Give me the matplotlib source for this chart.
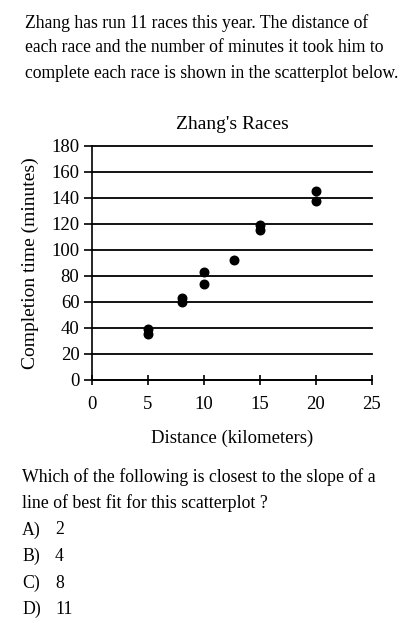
import matplotlib
matplotlib.use('Agg')
import matplotlib.pyplot as plt

# race data
distance_km = [5, 5, 8, 8, 10, 10, 12.7, 15, 15, 20, 20]
minutes = [39, 35.5, 63, 60, 83, 74, 92, 119, 115, 145, 138]

x_ticks = [0, 5, 10, 15, 20, 25]
y_ticks = [0, 20, 40, 60, 80, 100, 120, 140, 160, 180]

question_lines = [
    "Zhang has run 11 races this year. The distance of",
    "each race and the number of minutes it took him to",
    "complete each race is shown in the scatterplot below.",
]
prompt_lines = [
    "Which of the following is closest to the slope of a",
    "line of best fit for this scatterplot ?",
]
choice_letters = ["A)", "B)", "C)", "D)"]
choice_values = ["2", "4", "8", "11"]

plt.rcParams['font.family'] = ['Liberation Serif', 'DejaVu Serif']

fig = plt.figure(figsize=(4.1, 6.37), dpi=100)
W, H = 410, 637

def fy(py):
    return 1 - py / H

for i, line in enumerate(question_lines):
    fig.text(25 / W, fy(23 + 25 * i), line, fontsize=12.7, va='center', ha='left')

ax = fig.add_axes([92 / W, fy(380), (372 - 92) / W, (380 - 146) / H])
ax.scatter(distance_km, minutes, s=38, color='black', zorder=3, clip_on=False)

ax.set_xlim(0, 25)
ax.set_ylim(0, 180)
ax.set_xticks(x_ticks)
ax.set_yticks(y_ticks)
ax.tick_params(axis='x', direction='inout', length=7, width=1.2, labelsize=13.5, pad=8)
ax.tick_params(axis='y', direction='out', length=6, width=1.2, labelsize=13.5, pad=3)
ax.grid(axis='y', color='black', linewidth=1.3)
for gl in ax.get_ygridlines():
    gl.set_clip_on(False)
ax.set_axisbelow(True)
for side in ['top', 'right']:
    ax.spines[side].set_visible(False)
for side in ['left', 'bottom']:
    ax.spines[side].set_linewidth(1.2)

ax.set_title("Zhang's Races", fontsize=14, pad=12)
ax.set_xlabel("Distance (kilometers)", fontsize=13.5, labelpad=12)
ax.set_ylabel("Completion time (minutes)", fontsize=14, labelpad=9)

for i, line in enumerate(prompt_lines):
    fig.text(22 / W, fy(477 + 26 * i), line, fontsize=12.8, va='center', ha='left')
for i, (letter, val) in enumerate(zip(choice_letters, choice_values)):
    fig.text(22 / W, fy(530 + 26.5 * i), letter, fontsize=12.8, va='center', ha='left')
    fig.text(55 / W, fy(530 + 26.5 * i), val, fontsize=12.8, va='center', ha='left')

fig.savefig('out.png', dpi=100, facecolor='white')
